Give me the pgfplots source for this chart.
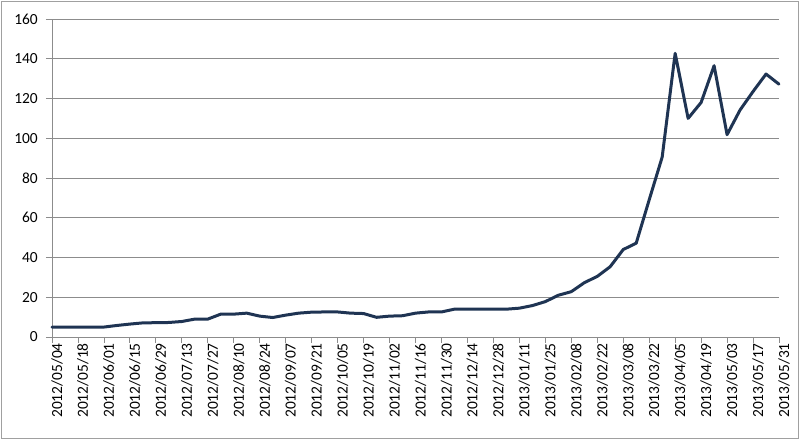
\documentclass[border=0pt]{standalone}
\usepackage{fontspec}
\setmainfont{Carlito}
\usepackage{pgfplots}
\pgfplotsset{compat=1.18}
\definecolor{navy}{RGB}{31,52,83}
\definecolor{gridgray}{RGB}{140,140,140}
\definecolor{framegray}{RGB}{160,160,160}
\begin{document}
\begin{tikzpicture}[x=1bp,y=1bp]
\path[use as bounding box] (0,0) rectangle (800,440);
\draw[framegray, line width=1.2bp] (1.5,1.5) rectangle (798.5,438.5);
\begin{axis}[
  at={(52bp,103bp)}, anchor=south west,
  scale only axis, width=727bp, height=318bp,
  xmin=0, xmax=56, ymin=0, ymax=160,
  axis x line=bottom, axis y line=left,
  axis line style={-, draw=gridgray, line width=0.8bp},
  xtick={0,2,...,56},
  xticklabels={2012/05/04,2012/05/18,2012/06/01,2012/06/15,2012/06/29,2012/07/13,2012/07/27,2012/08/10,2012/08/24,2012/09/07,2012/09/21,2012/10/05,2012/10/19,2012/11/02,2012/11/16,2012/11/30,2012/12/14,2012/12/28,2013/01/11,2013/01/25,2013/02/08,2013/02/22,2013/03/08,2013/03/22,2013/04/05,2013/04/19,2013/05/03,2013/05/17,2013/05/31},
  ytick={0,20,...,160},
  ymajorgrids, grid style={draw=gridgray, line width=0.8bp},
  tick align=outside, major tick length=6bp,
  tick style={draw=gridgray, line width=0.8bp},
  xticklabel style={rotate=90, anchor=east, font=\fontsize{15.5}{16}\selectfont, inner sep=0pt, xshift=0bp},
  yticklabel style={font=\fontsize{15.5}{16}\selectfont, inner sep=0pt},
  xtick pos=bottom, ytick pos=left,
  x tick label style={yshift=-5bp},
  y tick label style={xshift=-8bp},
  /pgf/number format/assume math mode=true,
  clip=false,
]
\addplot[navy, line width=3bp, line join=round, line cap=round, no marks] coordinates {
(0,5) (1,5) (2,5) (3,5) (4,5) (5,5.8) (6,6.5) (7,7.1) (8,7.2) (9,7.3)
(10,7.8) (11,9) (12,9) (13,11.5) (14,11.5) (15,12) (16,10.5) (17,9.8) (18,11) (19,12)
(20,12.5) (21,12.6) (22,12.6) (23,12) (24,11.8) (25,9.9) (26,10.5) (27,10.7) (28,12) (29,12.6)
(30,12.6) (31,14) (32,14) (33,14) (34,14) (35,14) (36,14.5) (37,15.8) (38,17.8) (39,21)
(40,22.8) (41,27.3) (42,30.5) (43,35.4) (44,44) (45,47.2) (46,69) (47,90.5) (48,142.7) (49,110)
(50,118) (51,136.5) (52,101.8) (53,114.2) (54,123.5) (55,132.3) (56,127.2)
};
\end{axis}
\end{tikzpicture}
\end{document}
